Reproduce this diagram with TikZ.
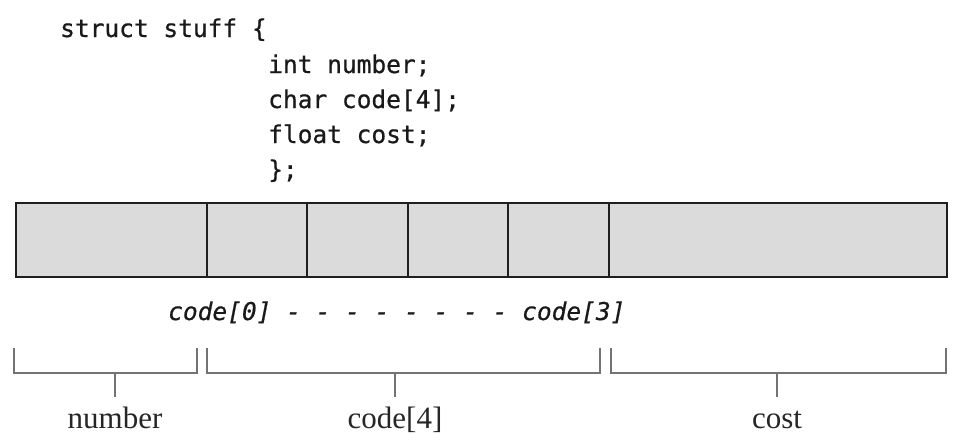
\documentclass[tikz,border=0pt]{standalone}
\usepackage{fontspec}
\setmainfont{Liberation Serif}
\newfontfamily\codefont{DejaVu Sans Mono}[FakeBold=0.6]
\begin{document}
\begin{tikzpicture}[x=1pt,y=-1pt,
  code/.style={inner sep=0pt,anchor=base west,font=\codefont\fontsize{24.5}{28}\selectfont,text=black!90},
  icode/.style={code,font=\codefont\itshape\fontsize{24.5}{28}\selectfont},
  cell/.style={draw=black!88,line width=2.8pt,fill=black!14},
  brace/.style={draw=black!55,line width=1.4pt},
  lbl/.style={inner sep=0pt,anchor=base,font=\fontsize{31}{34}\selectfont,text=black!85}]
\useasboundingbox (0,0) rectangle (953,442);
% struct text
\node[code] (s0) at (60,37) {struct stuff \{};
\node[code] (s1) at (268,73) {int number;};
\node[code] (s2) at (268,108) {char code[4];};
\node[code] (s3) at (268,143) {float cost;};
\node[code] (s4) at (268,178) {\};};
% cells
\path[cell] (16,203) rectangle (947,277);
\foreach \x in {207,307,408,508,609} \draw[cell,fill=none] (\x,203) -- (\x,277);
% labels
\node[icode] (ci) at (168,320) {code[0] - - - - - - - - code[3]};
% braces
\coordinate (b1a) at (14,348); \coordinate (b1b) at (197,348);
\coordinate (b2a) at (207,348); \coordinate (b2b) at (600,348);
\coordinate (b3a) at (611,348); \coordinate (b3b) at (946,348);
\draw[brace] (b1a) -- (14,373) -- (197,373) -- (b1b);
\draw[brace] (b2a) -- (207,373) -- (600,373) -- (b2b);
\draw[brace] (b3a) -- (611,373) -- (946,373) -- (b3b);
\node[lbl] (ln) at (115,428) {number};
\node[lbl] (lc) at (395,428) {code[4]};
\node[lbl] (lt) at (777,428) {cost};
\draw[brace] (115,373) -- (115,397);
\draw[brace] (395,373) -- (395,397);
\draw[brace] (777,373) -- (777,397);
\end{tikzpicture}
\end{document}
